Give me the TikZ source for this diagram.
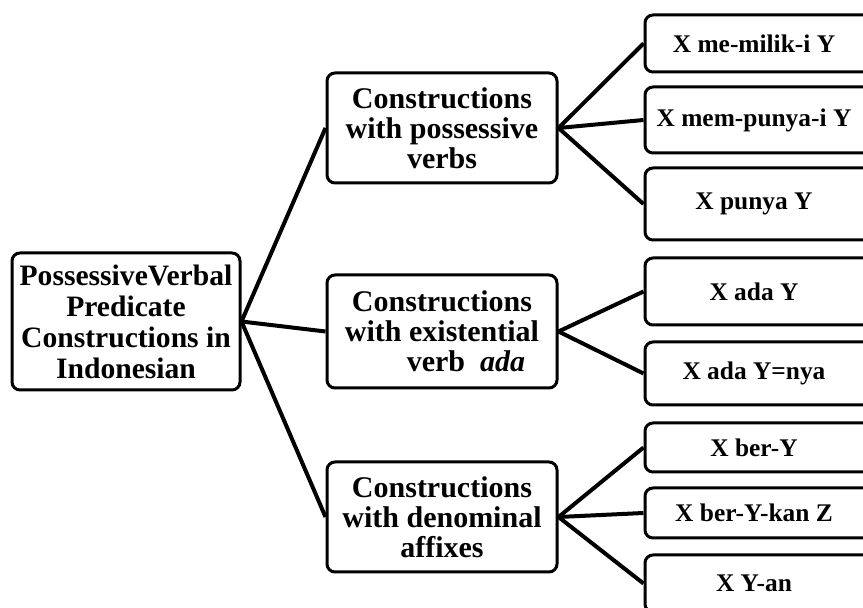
\documentclass[tikz,border=0pt]{standalone}
\usepackage{fontspec}
\setmainfont{Liberation Serif}
\usetikzlibrary{positioning}

\begin{document}
\begin{tikzpicture}[
  x=0.5pt, y=-0.5pt,
  rootbox/.style={
    draw, fill=white, line width=1.5pt,
    rounded corners=4pt, align=center, inner sep=0pt,
    font=\bfseries\fontsize{14.8}{15.5}\selectfont,
    minimum width=114pt, minimum height=68.5pt
  },
  groupbox/.style={
    draw, fill=white, line width=1.5pt,
    rounded corners=4pt, align=center, inner sep=0pt,
    font=\bfseries\fontsize{15}{15}\selectfont,
    minimum width=115pt, minimum height=#1
  },
  leafbox/.style={
    draw, fill=white, line width=1.5pt,
    rounded corners=4pt, align=center, inner sep=0pt,
    font=\bfseries\fontsize{12.7}{13}\selectfont,
    minimum width=120pt, minimum height=#1
  },
  link/.style={line width=2pt},
]
\useasboundingbox (0,0) rectangle (863,608);

%% root
\node[rootbox] (root) at (126,321.5)
  {PossessiveVerbal\\Predicate\\Constructions in\\Indonesian};

%% groups
\node[groupbox=55pt] (poss) at (442,128)
  {Constructions\\with possessive\\verbs};
\node[groupbox=56.5pt] (exis) at (442,331.5)
  {Constructions\\with existential\\\hspace*{1.6em}verb\ \ \textit{ada}};
\node[groupbox=55pt] (deno) at (442,517)
  {Constructions\\with denominal\\affixes};

%% leaves (right edge runs off the page)
\node[leafbox=28.5pt] (l1) at (765,43.5) {\hspace*{-11pt}X me-milik-i Y};
\node[leafbox=33pt]   (l2) at (765,120)  {\hspace*{-11pt}X mem-punya-i Y};
\node[leafbox=36pt]   (l3) at (765,204)  {\hspace*{-11pt}X punya Y};
\node[leafbox=33.5pt] (l4) at (765,291.5) {\hspace*{-11pt}X ada Y};
\node[leafbox=31.5pt] (l5) at (765,373.5) {\hspace*{-11pt}X ada Y=nya};
\node[leafbox=24.5pt] (l6) at (765,447.5) {\hspace*{-11pt}X ber-Y};
\node[leafbox=25pt]   (l7) at (765,513)  {\hspace*{-11pt}X ber-Y-kan Z};
\node[leafbox=28.5pt] (l8) at (765,583.5) {\hspace*{-11pt}X Y-an};

%% links
\draw[link] (root.east) -- (poss.west);
\draw[link] (root.east) -- (exis.west);
\draw[link] (root.east) -- (deno.west);

\draw[link] (poss.east) -- (l1.west);
\draw[link] (poss.east) -- (l2.west);
\draw[link] (poss.east) -- (l3.west);
\draw[link] (exis.east) -- (l4.west);
\draw[link] (exis.east) -- (l5.west);
\draw[link] (deno.east) -- (l6.west);
\draw[link] (deno.east) -- (l7.west);
\draw[link] (deno.east) -- (l8.west);

\end{tikzpicture}
\end{document}
